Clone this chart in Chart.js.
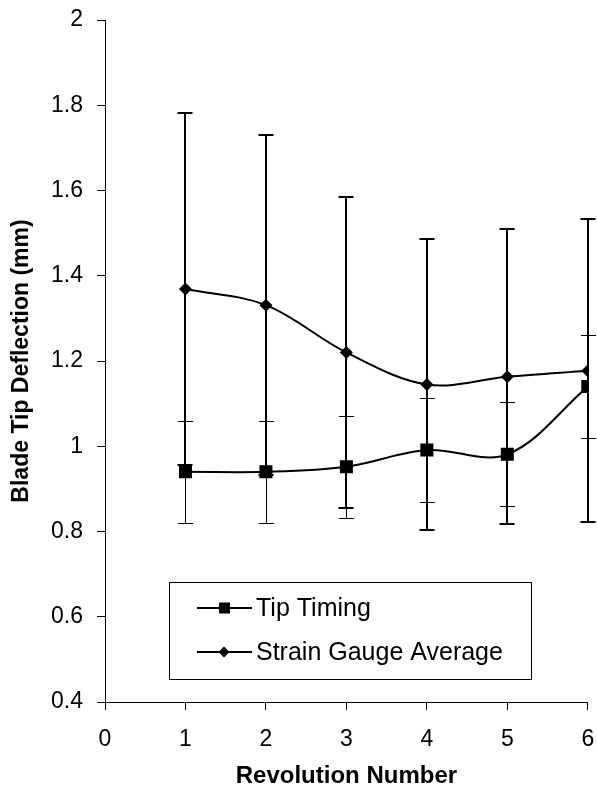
<!DOCTYPE html>
<html>
<head>
<meta charset="utf-8">
<script src="https://cdn.jsdelivr.net/npm/chart.js@4.4.1/dist/chart.umd.min.js"></script>
<style>
  html, body { margin: 0; padding: 0; background: #fff; }
  canvas { display: block; }
</style>
</head>
<body>
<canvas id="chart" width="597" height="795"></canvas>
<script>
// ── Datos ──────────────────────────────────────────────────────────────────
const revolutions = [1, 2, 3, 4, 5, 6];
const tipTiming   = [0.94, 0.94, 0.952, 0.991, 0.981, 1.14];
const tipErr      = [0.12, 0.12, 0.12, 0.122, 0.122, 0.12];
const strainAvg   = [1.369, 1.331, 1.22, 1.145, 1.163, 1.177];
const strainErr   = [0.412, 0.399, 0.365, 0.341, 0.346, 0.355];
const seriesNames = ['Tip Timing', 'Strain Gauge Average'];

const FONT = "'Liberation Sans', Arial, sans-serif";

const toPoints = vals => revolutions.map((r, i) => ({ x: r, y: vals[i] }));

// ── Barras de error ────────────────────────────────────────────────────────
function drawBars(ctx, xs, ys, vals, errs, lw, cap) {
  const off = lw % 2 ? 0.5 : 0;
  ctx.strokeStyle = '#000';
  ctx.lineWidth = lw;
  vals.forEach((v, i) => {
    const px = Math.round(xs.getPixelForValue(revolutions[i])) + off;
    const top = Math.round(ys.getPixelForValue(v + errs[i])) + off;
    const bot = Math.round(ys.getPixelForValue(v - errs[i])) + off;
    ctx.beginPath();
    ctx.moveTo(px, top); ctx.lineTo(px, bot);
    ctx.moveTo(px - cap, top); ctx.lineTo(px + cap, top);
    ctx.moveTo(px - cap, bot); ctx.lineTo(px + cap, bot);
    ctx.stroke();
  });
}

const errorBars = {
  id: 'errorBars',
  beforeDatasetsDraw(chart) {
    const { ctx, scales: { x, y } } = chart;
    ctx.save();
    drawBars(ctx, x, y, strainAvg, strainErr, 2, 7.5);
    drawBars(ctx, x, y, tipTiming, tipErr, 1, 7.5);
    ctx.restore();
  }
};

// ── Leyenda dentro del área ────────────────────────────────────────────────
const boxLegend = {
  id: 'boxLegend',
  afterDraw(chart) {
    const ctx = chart.ctx;
    ctx.save();
    ctx.strokeStyle = '#000';
    ctx.lineWidth = 1;
    ctx.strokeRect(169.5, 582.5, 362, 97);
    [608, 652].forEach((yy, i) => {
      ctx.lineWidth = 2;
      ctx.beginPath();
      ctx.moveTo(197, yy); ctx.lineTo(252, yy);
      ctx.stroke();
      ctx.fillStyle = '#000';
      if (i === 0) {
        ctx.fillRect(219, yy - 5.5, 11, 11);
      } else {
        ctx.beginPath();
        ctx.moveTo(224, yy - 5.5); ctx.lineTo(229.5, yy);
        ctx.lineTo(224, yy + 5.5); ctx.lineTo(218.5, yy);
        ctx.closePath(); ctx.fill();
      }
      ctx.font = '25px ' + FONT;
      ctx.textBaseline = 'middle';
      ctx.fillText(seriesNames[i], 256, yy + 1);
    });
    ctx.restore();
  }
};

// ── Gráfica ────────────────────────────────────────────────────────────────
new Chart(document.getElementById('chart'), {
  type: 'line',
  data: {
    datasets: [
      {
        label: seriesNames[0],
        data: toPoints(tipTiming),
        borderColor: '#000', borderWidth: 2,
        pointStyle: 'rect', pointRadius: 9.2,
        pointBackgroundColor: '#000', pointBorderWidth: 0,
        tension: 0.35
      },
      {
        label: seriesNames[1],
        data: toPoints(strainAvg),
        borderColor: '#000', borderWidth: 2,
        pointStyle: 'rectRot', pointRadius: 6.5,
        pointBackgroundColor: '#000', pointBorderWidth: 0,
        tension: 0.35
      }
    ]
  },
  options: {
    responsive: false,
    animation: false,
    devicePixelRatio: 1,
    layout: { padding: { top: 20, right: 8, left: 0, bottom: 0 } },
    plugins: { legend: { display: false }, tooltip: { enabled: false } },
    scales: {
      x: {
        type: 'linear', min: 0, max: 6,
        ticks: { stepSize: 1, color: '#000', font: { family: FONT, size: 23 }, padding: 16, maxRotation: 0 },
        grid: { drawOnChartArea: false, tickLength: 8, color: '#000' },
        border: { color: '#000', width: 1 },
        title: { display: true, text: 'Revolution Number', color: '#000',
                 font: { family: FONT, size: 24, weight: 'bold' }, padding: { top: 0, bottom: 4 } },
        afterFit: s => { s.height = 93; s.paddingRight = 0; s.paddingLeft = 0; }
      },
      y: {
        min: 0.4, max: 2,
        ticks: { stepSize: 0.2, color: '#000', font: { family: FONT, size: 23 }, padding: 14,
                 callback: v => String(Math.round(v * 10) / 10) },
        grid: { drawOnChartArea: false, tickLength: 8, color: '#000' },
        border: { color: '#000', width: 1 },
        title: { display: true, text: 'Blade Tip Deflection (mm)', color: '#000',
                 font: { family: FONT, size: 23, weight: 'bold' }, padding: { top: 8, bottom: 0 } },
        afterFit: s => { s.width = 105; s.paddingTop = 0; s.paddingBottom = 0; }
      }
    }
  },
  plugins: [errorBars, boxLegend]
});
</script>
</body>
</html>
